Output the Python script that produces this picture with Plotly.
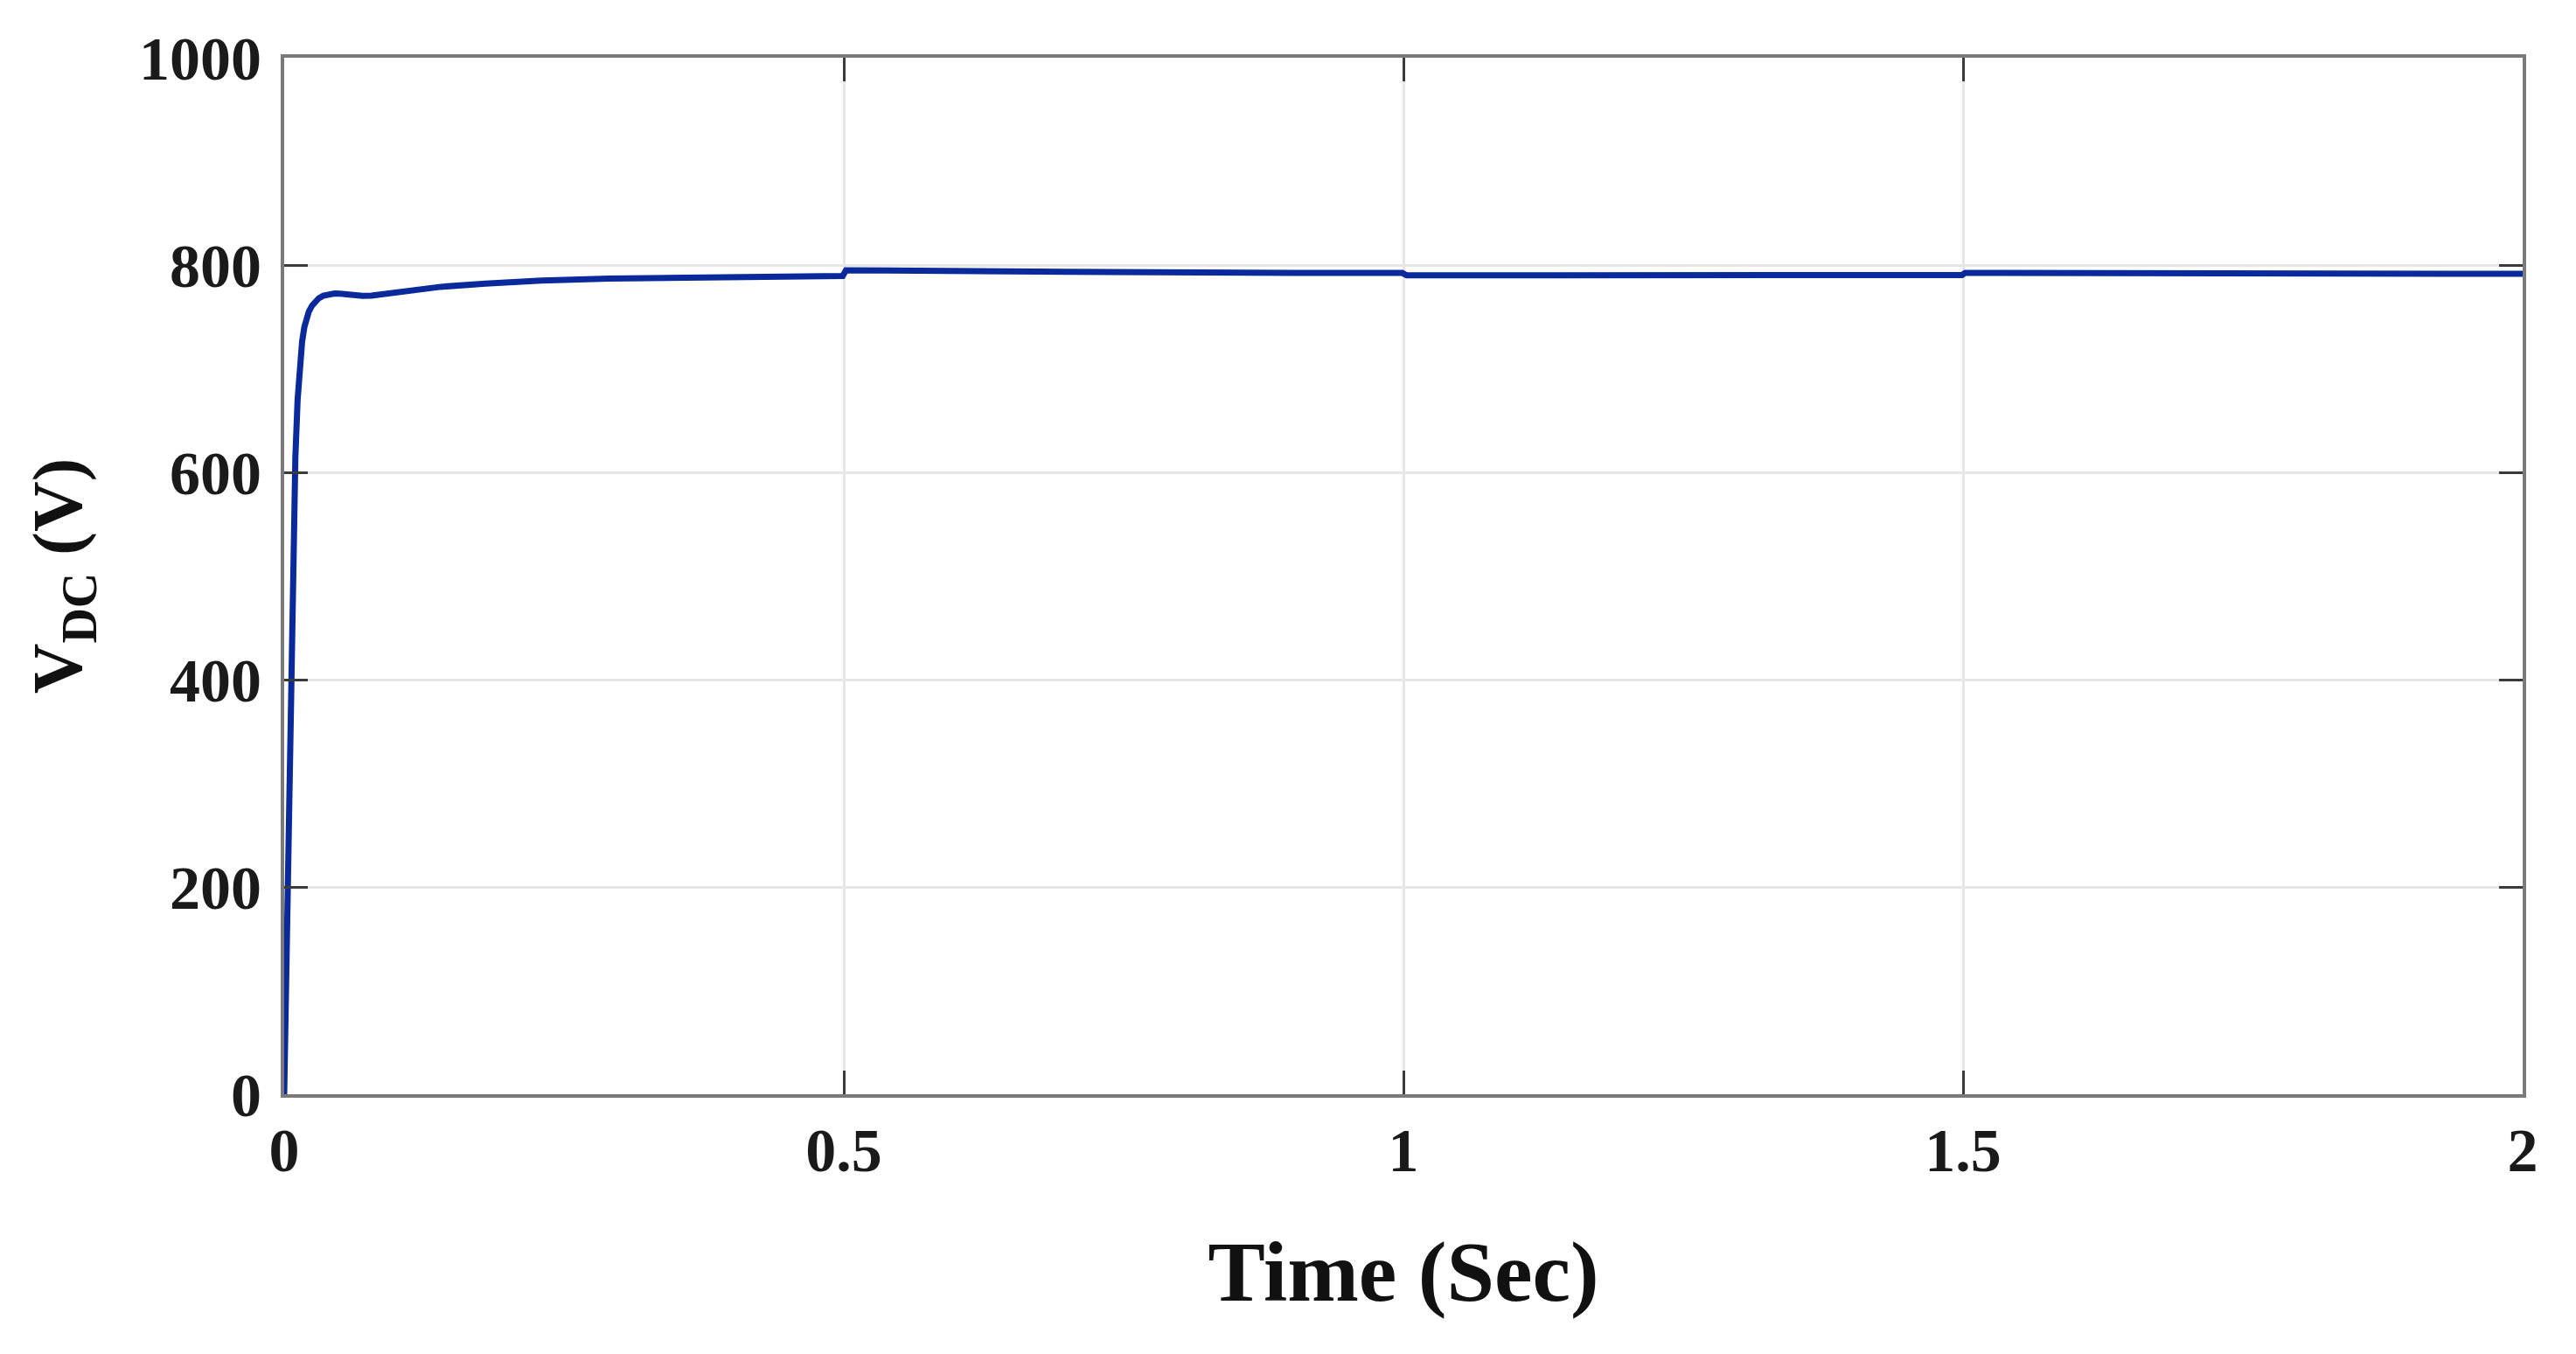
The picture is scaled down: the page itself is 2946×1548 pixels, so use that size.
import plotly.graph_objects as go

# Time (s) and DC-link voltage (V)
time_s = [0.0, 0.002, 0.004, 0.006, 0.008, 0.010, 0.012, 0.014, 0.016, 0.018, 0.020,
          0.022, 0.025, 0.028, 0.031, 0.035, 0.040, 0.045, 0.050, 0.056, 0.063,
          0.070, 0.078, 0.09, 0.11, 0.14, 0.18, 0.23, 0.29, 0.37, 0.45, 0.499,
          0.502, 0.55, 0.7, 0.9, 0.999, 1.003, 1.2, 1.499, 1.502, 1.7, 2.0]
vdc = [0, 120, 260, 420, 540, 615, 670, 705, 726, 740, 749,
       755, 761, 765, 768, 770.5, 772, 772.5, 772.3, 771.5, 770.6,
       770.2, 770.4, 772, 775.5, 779, 782, 785, 787, 788.5, 789, 789.5,
       795, 794.5, 793.5, 792.5, 792.3, 790, 790, 790.3, 792.5, 792, 791.5]

x_ticks = [0, 0.5, 1, 1.5, 2]
x_tick_labels = ["0", "0.5", "1", "1.5", "2"]
y_ticks = [0, 200, 400, 600, 800, 1000]
y_tick_labels = ["0", "200", "400", "600", "800", "1000"]

FONT = "Liberation Serif"

fig = go.Figure()
fig.add_trace(go.Scatter(
    x=time_s, y=vdc, mode="lines",
    line=dict(color="#0a2a9c", width=7),
    showlegend=False,
))

axis_common = dict(
    showline=True, linecolor="#7a7a7a", linewidth=4, mirror="ticks",
    ticks="inside", ticklen=27, tickwidth=3, tickcolor="#3a3a3a",
    showgrid=True, gridcolor="#e6e6e6", gridwidth=3,
    zeroline=False,
    tickfont=dict(family=FONT, size=70, color="#1a1a1a", weight="bold"),
)

fig.update_layout(
    width=2930, height=1532,
    margin=dict(l=317, r=53, t=58, b=289),
    paper_bgcolor="white", plot_bgcolor="white",
    xaxis=dict(
        range=[0, 2], tickvals=x_ticks, ticktext=x_tick_labels,
        title=dict(text="Time (Sec)", standoff=66,
                   font=dict(family=FONT, size=98, color="#111111", weight="bold")),
        **axis_common,
    ),
    yaxis=dict(
        range=[0, 1000], tickvals=y_ticks, ticktext=y_tick_labels,
        ticklabelstandoff=8,
        title=dict(text="V<sub>DC</sub> (V)", standoff=40,
                   font=dict(family=FONT, size=80, color="#111111", weight="bold")),
        **axis_common,
    ),
)

fig.write_html("out.html")
